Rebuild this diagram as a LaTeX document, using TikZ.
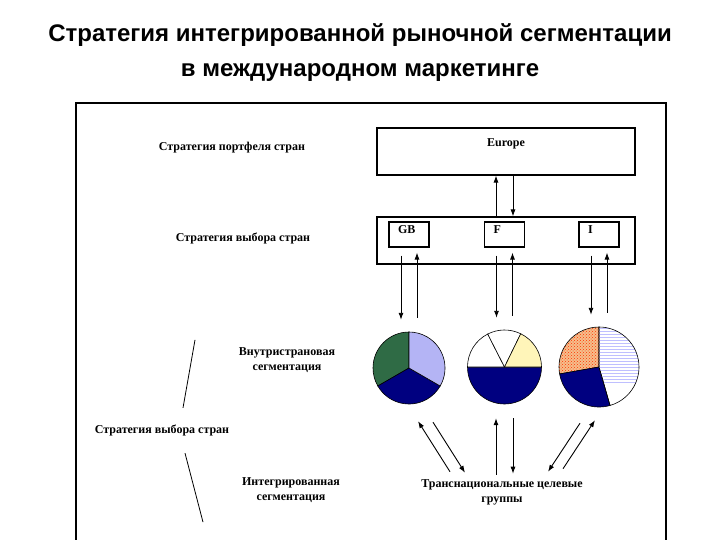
\documentclass[tikz,border=0pt]{standalone}
\usepackage{fontspec}
\setmainfont{Liberation Serif}
\newfontfamily\titlefont{Liberation Sans}
\usetikzlibrary{arrows.meta,patterns}

\definecolor{piegreen}{RGB}{47,107,69}
\definecolor{pienavy}{RGB}{0,0,128}
\definecolor{pielav}{RGB}{180,180,245}
\definecolor{pieyellow}{RGB}{255,245,185}
\definecolor{pieorange}{RGB}{245,190,140}

\tikzset{
  box/.style={draw, line width=1.1pt, inner sep=0pt},
  cbox/.style={box, minimum width=40pt, minimum height=25pt, text width=22pt, align=left, text depth=9pt, font=\bfseries\fontsize{12}{13}\selectfont},
  lbl/.style={font=\bfseries\fontsize{12}{15}\selectfont, align=center},
  arr/.style={->, line width=0.9pt},
  pie/.style={circle, inner sep=0pt, minimum size=#1},
}
\newcommand{\pieslice}[4]{\filldraw[line width=0.6pt, #4] (0,0) -- (#1:#3) arc[start angle=#1, end angle=#2, radius=#3] -- cycle;}

\begin{document}
\begin{tikzpicture}[x=1pt, y=-1pt, >={Latex[length=7pt,width=5pt]}]
    \useasboundingbox (0,0) rectangle (720,540);
    \clip (0,0) rectangle (720,540);

    % 1. Заголовок
    \node[font=\titlefont\bfseries\fontsize{24}{28}\selectfont] (title1) at (360,35) {Стратегия интегрированной рыночной сегментации};
    \node[font=\titlefont\bfseries\fontsize{24}{28}\selectfont] (title2) at (360,73) {в международном маркетинге};

    % 2. Рамка
    \draw[line width=1.6pt] (76,548) -- (76,103) -- (666,103) -- (666,548);

    % 3. Уровни стратегии (слева)
    \node[lbl] (port) at (232,148) {Стратегия портфеля стран};
    \node[lbl] (sel1) at (243,238) {Стратегия выбора стран};
    \node[lbl] (intra) at (287,360) {Внутристрановая\\сегментация};
    \node[lbl] (sel2) at (162,430) {Стратегия выбора стран};
    \node[lbl] (integ) at (291,490) {Интегрированная\\сегментация};

    \draw[line width=0.8pt] ([xshift=21pt,yshift=13pt]sel2.north) -- ++(12,-68);
    \draw[line width=0.8pt] ([xshift=23pt,yshift=-14pt]sel2.south) -- ++(18,69);

    % 4. Europe и страны
    \node[box, minimum width=258pt, minimum height=47pt, text depth=17pt, font=\bfseries\fontsize{12}{13}\selectfont] (eu) at (506,151.5) {Europe};
    \node[box, minimum width=258pt, minimum height=47pt] (cty) at (506,240.5) {};
    \node[cbox] (gb) at (409,234.5) {GB};
    \node[cbox] (f) at (504.5,234.5) {F};
    \node[cbox] (i) at (599,234.5) {I};

    \draw[arr] ([xshift=-10pt]cty.north) -- ([xshift=-10pt]eu.south);
    \draw[arr] ([xshift=7pt]eu.south) -- ([xshift=7pt]cty.north);

    % 5. Круговые диаграммы
    \node[pie=72pt] (pgb) at (409,368) {};
    \node[pie=74pt] (pf) at (504.5,367) {};
    \node[pie=80pt] (pi) at (599,367) {};

    \begin{scope}[shift={(pgb.center)}, y=1pt]
        \pieslice{90}{210}{36}{fill=piegreen}
        \pieslice{210}{330}{36}{fill=pienavy}
        \pieslice{-30}{90}{36}{fill=pielav}
    \end{scope}

    \begin{scope}[shift={(pf.center)}, y=1pt]
        \pieslice{180}{360}{37}{fill=pienavy}
        \pieslice{117}{180}{37}{fill=white}
        \pieslice{64}{117}{37}{fill=white}
        \pieslice{0}{64}{37}{fill=pieyellow}
    \end{scope}

    \begin{scope}[shift={(pi.center)}, y=1pt]
        \fill[pieorange] (0,0) -- (90:40) arc[start angle=90, end angle=190, radius=40] -- cycle;
        \fill[pattern=crosshatch dots, pattern color=red!60!orange] (0,0) -- (90:40) arc[start angle=90, end angle=190, radius=40] -- cycle;
        \draw[line width=0.6pt] (0,0) -- (90:40) arc[start angle=90, end angle=190, radius=40] -- cycle;
        \pieslice{190}{286}{40}{fill=pienavy}
        \begin{scope}
            \clip (0,0) -- (-74:40) arc[start angle=-74, end angle=90, radius=40] -- cycle;
            \foreach \k in {0,...,18}
                \draw[blue!25, line width=1pt] (0,{39-3*\k}) -- (42,{39-3*\k});
        \end{scope}
        \draw[line width=0.6pt] (0,0) -- (-74:40) arc[start angle=-74, end angle=90, radius=40] -- cycle;
    \end{scope}

    % 6. Стрелки страны <-> диаграммы
    \foreach \c in {gb,f,i} {
        \draw[arr] ([xshift=-8pt,yshift=-8pt]\c.south) -- ([xshift=-8pt,yshift=12pt]p\c.north);
        \draw[arr] ([xshift=8pt,yshift=14pt]p\c.north) -- ([xshift=8pt,yshift=-5pt]\c.south);
    }

    % 7. Транснациональные целевые группы
    \node[lbl] (tn) at (502,492) {Транснациональные целевые\\группы};

    \draw[arr] ([xshift=-52pt,yshift=4pt]tn.north) -- ([xshift=9pt,yshift=-17pt]pgb.south);
    \draw[arr] ([xshift=24pt,yshift=-18pt]pgb.south) -- ([xshift=-37pt,yshift=3pt]tn.north);
    \draw[arr] ([xshift=-6pt,yshift=1pt]tn.north) -- ([xshift=-8.5pt,yshift=-14pt]pf.south);
    \draw[arr] ([xshift=8.5pt,yshift=-14pt]pf.south) -- ([xshift=11pt,yshift=2pt]tn.north);
    \draw[arr] ([xshift=-19pt,yshift=-16pt]pi.south) -- ([xshift=46pt,yshift=4pt]tn.north);
    \draw[arr] ([xshift=61pt,yshift=7pt]tn.north) -- ([xshift=-4pt,yshift=-13pt]pi.south);

\end{tikzpicture}
\end{document}
